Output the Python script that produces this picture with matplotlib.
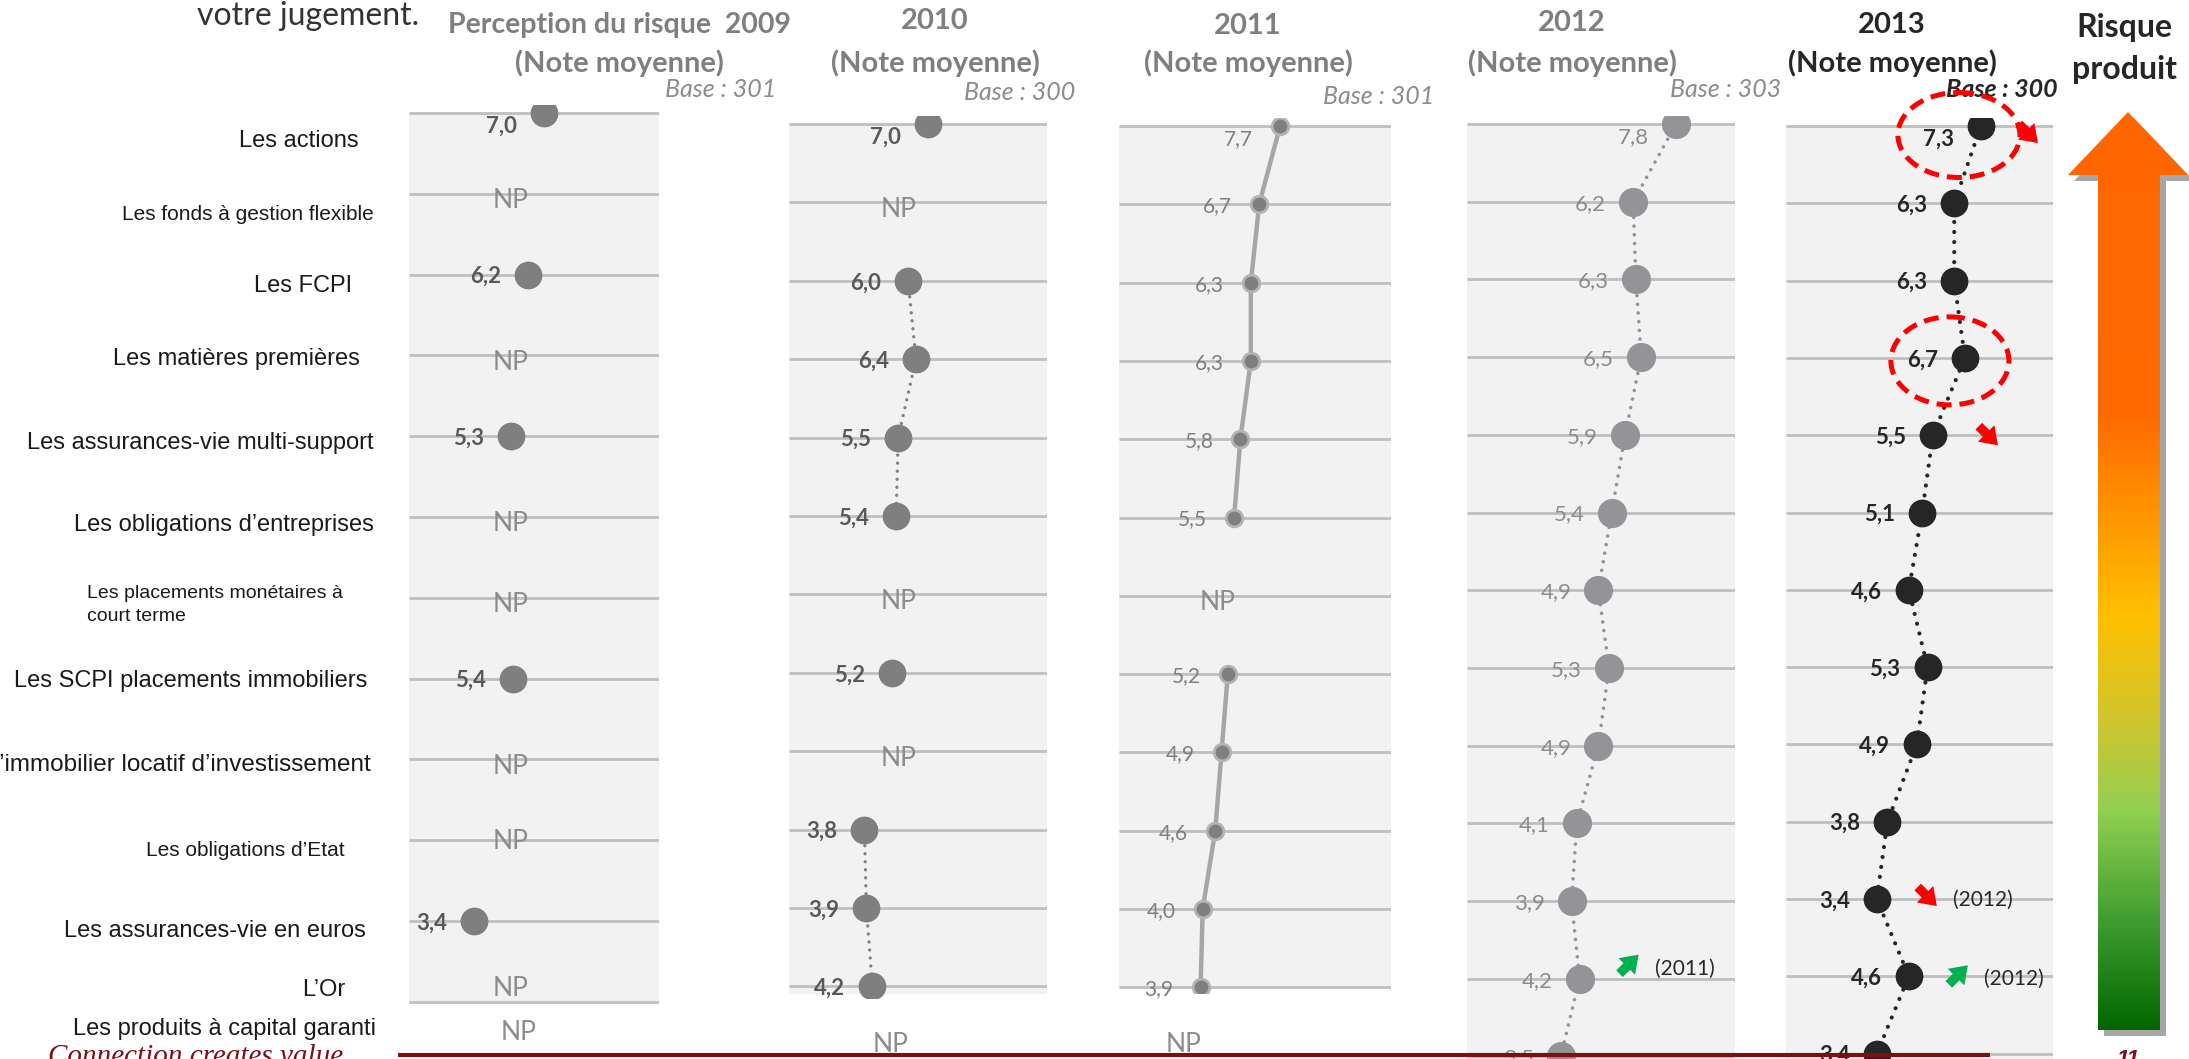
import numpy as np
import matplotlib
matplotlib.use("Agg")
import matplotlib.pyplot as plt
from matplotlib.colors import LinearSegmentedColormap
from matplotlib.patches import Ellipse, Polygon, FancyArrowPatch

W, H = 2189, 1059

categories = [
    "Les actions",
    "Les fonds à gestion flexible",
    "Les FCPI",
    "Les matières premières",
    "Les assurances-vie multi-support",
    "Les obligations d’entreprises",
    "Les placements monétaires à\ncourt terme",
    "Les SCPI placements immobiliers",
    "L’immobilier locatif d’investissement",
    "Les obligations d’Etat",
    "Les assurances-vie en euros",
    "L’Or",
    "Les produits à capital garanti",
]

NP = np.nan  # "NP" = not asked that year
scores_2009 = [7.0, NP, 6.2, NP, 5.3, NP, NP, 5.4, NP, NP, 3.4, NP, NP]
scores_2010 = [7.0, NP, 6.0, 6.4, 5.5, 5.4, NP, 5.2, NP, 3.8, 3.9, 4.2, NP]
scores_2011 = [7.7, 6.7, 6.3, 6.3, 5.8, 5.5, NP, 5.2, 4.9, 4.6, 4.0, 3.9, NP]
scores_2012 = [7.8, 6.2, 6.3, 6.5, 5.9, 5.4, 4.9, 5.3, 4.9, 4.1, 3.9, 4.2, 3.5]
scores_2013 = [7.3, 6.3, 6.3, 6.7, 5.5, 5.1, 4.6, 5.3, 4.9, 3.8, 3.4, 4.6, 3.4]

years = ["2009", "2010", "2011", "2012", "2013"]
bases = ["301", "300", "301", "303", "300"]

SANS = "Lato"
CAT_FONT = "Liberation Sans"

fig = plt.figure(figsize=(W / 100, H / 100), dpi=100)
fig.patch.set_facecolor("white")


def fx(x):
    return x / W


def fy(y):
    return 1 - y / H


# panel layout in pixels: left, right, first grid line, row spacing, n grid lines, bg bottom, x max, NP x
layout = [
    (409, 659, 113, 80.8, 12, 1003, 13, 5.3),
    (789, 1047, 124, 78.4, 12, 994, 13, 5.5),
    (1119, 1391, 126, 78.3, 12, 989, 13, 4.7),
    (1467, 1735, 124, 77.7, 13, 1062, 10, 4.5),
    (1786, 2053, 126, 77.3, 13, 1062, 10, 4.5),
]
styles = [
    dict(ls=None, dot="#7f7f7f", ms=20, mec="#7f7f7f", mew=0, lab="#595959", lw="bold", fs=16),
    dict(ls="dot", lc="#7f7f7f", lwid=2.4, dot="#7f7f7f", ms=20, mec="#7f7f7f", mew=0,
         lab="#595959", lw="bold", fs=16),
    dict(ls="-", lc="#a6a6a6", lwid=3.2, dot="#7f7f7f", ms=12, mec="#b4b4b4", mew=2,
         lab="#7f7f7f", lw="normal", fs=15),
    dict(ls="dot", lc="#939398", lwid=2.6, dot="#939398", ms=21, mec="#939398", mew=0,
         lab="#8c8c8c", lw="normal", fs=16),
    dict(ls="dot", lc="#262626", lwid=3.0, dot="#262626", ms=20, mec="#262626", mew=0,
         lab="#262626", lw="bold", fs=16),
]
# a few hand-placed "NP" in the slide sit off the grid line (panel, row): shift in px
np_shift = {(0, 11): -20, (0, 9): -6}

all_scores = [scores_2009, scores_2010, scores_2011, scores_2012, scores_2013]
rows = np.arange(len(categories))

axes = []
for k, (scores, (left, right, y0, sp, nlines, bg_bot, xmax, np_x), st) in enumerate(
        zip(all_scores, layout, styles)):
    top = y0 - 8
    bot = bg_bot + 4
    ax = fig.add_axes([fx(left), fy(bot), (right - left) / W, (bot - top) / H])
    ax.set_xlim(0, xmax)
    ax.set_ylim((bot - y0) / sp, (top - y0) / sp)
    ax.axis("off")
    ax.axhspan(0, (bg_bot - y0) / sp, color="#f2f2f2", zorder=0, lw=0)
    ax.hlines(rows[:nlines], 0, xmax, color="#bfbfbf", lw=2, zorder=1)

    vals = np.array(scores, dtype=float)
    if st["ls"] == "dot":
        ax.plot(vals, rows, color=st["lc"], lw=st["lwid"], linestyle=(0, (0.01, 2.4)),
                dash_capstyle="round", zorder=2)
    elif st["ls"]:
        ax.plot(vals, rows, color=st["lc"], lw=st["lwid"], zorder=2)
    ax.plot(vals, rows, "o", ms=st["ms"], color=st["dot"], mec=st["mec"], mew=st["mew"], zorder=3)

    for r, v in zip(rows, vals):
        if np.isnan(v):
            if r < nlines:
                dy = 7 + np_shift.get((k, r), 0)
                ax.text(np_x, r + dy / sp, "NP", ha="center", va="center", fontsize=19,
                        family=SANS, color="#8c8c8c", zorder=4)
            continue
        ax.annotate(f"{v:.1f}".replace(".", ","), (v, r), xytext=(-27, -13 if r == 0 else -2),
                    textcoords="offset pixels", ha="right", va="center", fontsize=st["fs"],
                    family=SANS, fontweight=st["lw"], color=st["lab"], zorder=4)
    axes.append(ax)

# NP for the last product, below the 12-line panels
for x, y in [(519, 1033), (891, 1044), (1184, 1044)]:
    fig.text(fx(x), fy(y), "NP", ha="center", va="center", fontsize=19, family=SANS, color="#8c8c8c")

# product names on the left (the slide uses several text sizes)
cat_pos = [(359, 141), (374, 214), (352, 286), (360, 359), (374, 443), (374, 525), (87, 605),
           (367, 681), (371, 765), (345, 850), (366, 931), (345, 990), (376, 1029)]
cat_size = [17, 15, 17, 17, 17, 17, 14, 17, 17.5, 15, 17, 17, 17]
for name, (x, y), fs in zip(categories, cat_pos, cat_size):
    two_lines = "\n" in name
    fig.text(fx(x), fy(y), name, ha="left" if two_lines else "right", va="center",
             fontsize=fs, family=CAT_FONT, color="#1a1a1a", linespacing=1.5)

# headers
fig.text(fx(419), fy(16), "votre jugement.", ha="right", va="center", fontsize=23, family=SANS,
         color="#333333")
head_x = [619, 935, 1248, 1572, 1892]
head_y = [25, 21, 26, 23, 25]
base_right = [776, 1075, 1434, 1781, 2058]
base_y = [90, 92, 97, 90, 90]
for i, yr in enumerate(years):
    last = i == len(years) - 1
    col = "#262626" if last else "#7f7f7f"
    title = "Perception du risque  " + yr if i == 0 else yr
    fig.text(fx(head_x[i]), fy(head_y[i]), title, ha="center", va="center",
             fontsize=20.5 if i == 0 else 21, family=SANS, fontweight="bold", color=col)
    fig.text(fx(head_x[i]), fy(63), "(Note moyenne)", ha="center", va="center", fontsize=21,
             family=SANS, fontweight="bold", color=col)
    fig.text(fx(base_right[i]), fy(base_y[i]), "Base : " + bases[i], ha="right", va="center",
             fontsize=18, family=SANS, style="italic", fontweight="bold" if last else "normal",
             color="#262626" if last else "#8c8c8c")
fig.text(fx(2124), fy(28), "Risque", ha="center", va="center", fontsize=23, family=SANS,
         fontweight="bold", color="#262626")
fig.text(fx(2124), fy(70), "produit", ha="center", va="center", fontsize=23, family=SANS,
         fontweight="bold", color="#262626")

# overlay in pixel coordinates for the slide decorations
ov = fig.add_axes([0, 0, 1, 1], zorder=10)
ov.axis("off")

risk_cmap = LinearSegmentedColormap.from_list("risk", [
    (0.0, "#ff6600"), (0.33, "#ff6a00"), (0.45, "#ff9a00"), (0.55, "#ffc000"),
    (0.66, "#d2c52c"), (0.76, "#92d050"), (0.88, "#3f9e30"), (1.0, "#006600")])
arrow_pts = [(2098, 1030), (2098, 175), (2068, 175), (2128, 112), (2188, 175), (2160, 175), (2160, 1030)]
ov.add_patch(Polygon([(x + 6, y + 6) for x, y in arrow_pts], closed=True, color="#a6a6a6", lw=0, zorder=1))
body = Polygon(arrow_pts, closed=True, facecolor="none", edgecolor="none")
ov.add_patch(body)
img = ov.imshow(np.linspace(0, 1, 256).reshape(-1, 1), cmap=risk_cmap, aspect="auto",
                extent=(2060, 2189, 1032, 110), zorder=2)
img.set_clip_path(body)

ov.hlines(1055, 398, 1990, color="#7b1113", lw=3, zorder=5)
fig.text(fx(48), fy(1064), "Connection creates value", ha="left", va="baseline", fontsize=21,
         family="Liberation Serif", style="italic", color="#7b1113")
fig.text(fx(2128), fy(1049), "11", ha="center", va="top", fontsize=16, family="Liberation Sans",
         style="italic", fontweight="bold", color="#7b1113")


def to_px(ax, x, y):
    X, Y = ax.transData.transform((x, y))
    return X, H - Y


ax13 = axes[4]
for r, dx, dy, w, h in [(0, -22, 9, 122, 85), (3, -15, 3, 118, 88)]:
    cx, cy = to_px(ax13, all_scores[4][r], r)
    ov.add_patch(Ellipse((cx + dx, cy + dy), w, h, fill=False, edgecolor="#ff0000", lw=3.6,
                         linestyle=(0, (3, 1.6)), zorder=6))

# trend arrows: panel, row, down (True) / up, colour, offset px, note
marks = [
    (4, 0, True, "#ff0000", 47, 7, None),
    (4, 4, True, "#ff0000", 55, 0, None),
    (4, 10, True, "#ff0000", 50, -3, "(2012)"),
    (3, 11, False, "#00b050", 49, -14, "(2011)"),
    (4, 11, False, "#00b050", 49, -1, "(2012)"),
]
for k, r, down, col, dx, dy, note in marks:
    px, py = to_px(axes[k], all_scores[k][r], r)
    cx, cy = px + dx, py + dy
    s = 1 if down else -1
    ov.add_patch(FancyArrowPatch((cx - 11, cy - 11 * s), (cx + 12, cy + 12 * s),
                                 arrowstyle="simple,head_length=0.75,head_width=1.05,tail_width=0.42",
                                 mutation_scale=16, color=col, lw=0, zorder=7))
    if note:
        ov.text(cx + 56, cy + 4, note, ha="center", va="center", fontsize=15,
                family=SANS, color="#262626", zorder=7)

ov.set_xlim(0, W)
ov.set_ylim(H, 0)

fig.savefig("out.png", dpi=100, facecolor="white")
